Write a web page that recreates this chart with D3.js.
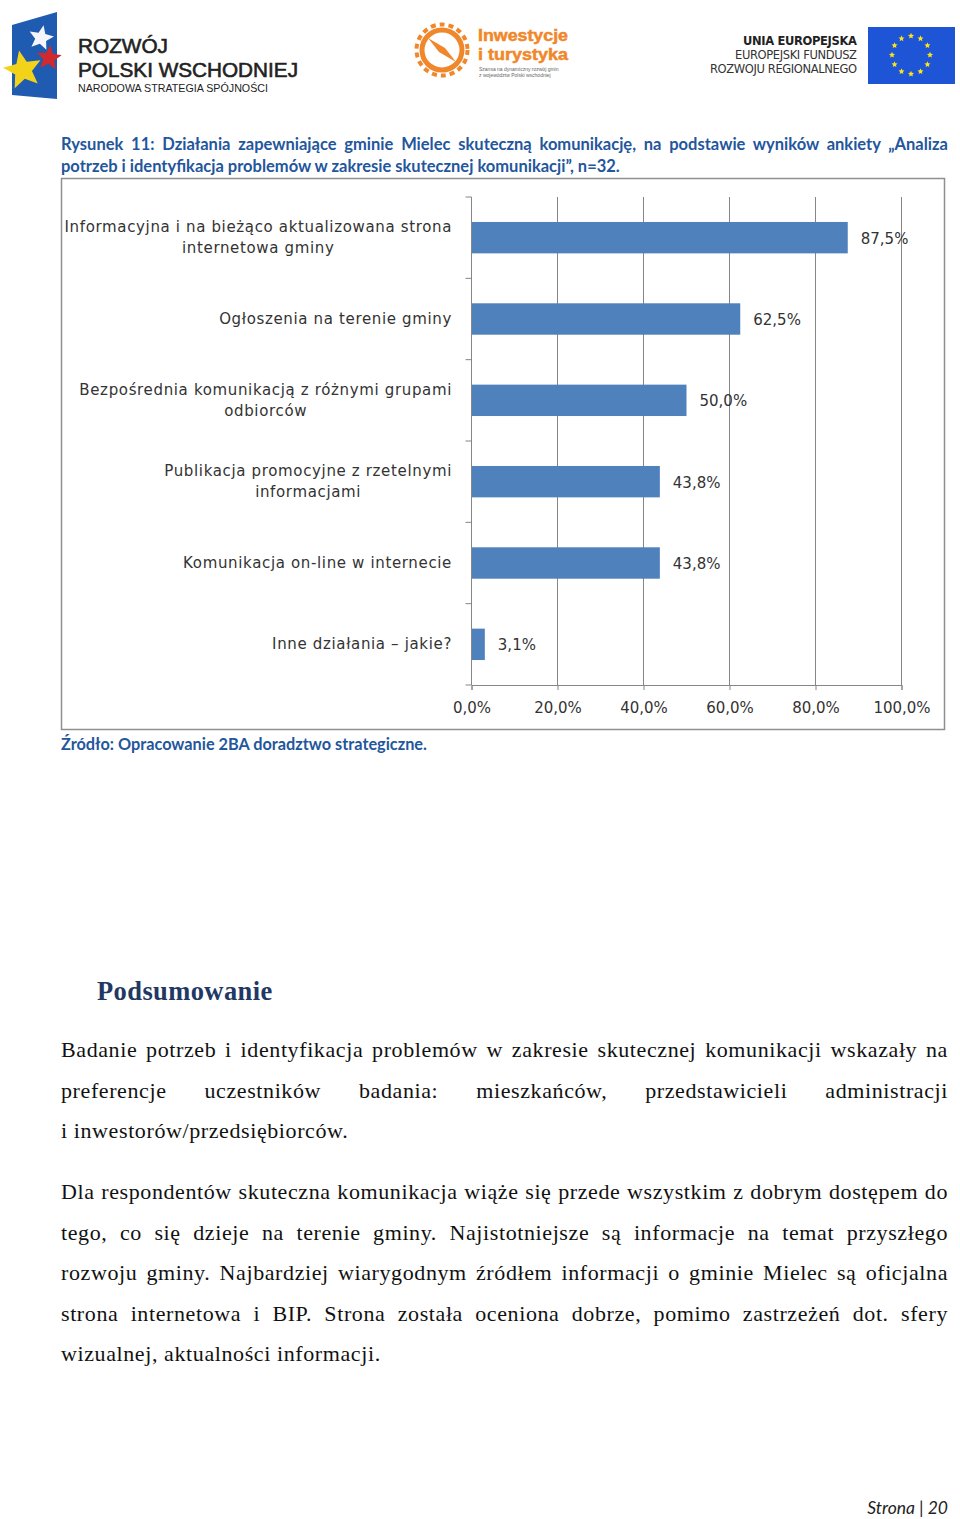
<!DOCTYPE html>
<html><head><meta charset="utf-8">
<script src="https://cdn.jsdelivr.net/npm/d3@7"></script>
<style>html,body{margin:0;padding:0;background:#fff;}svg{display:block;}</style>
</head><body>
<script>
// ---- data ----
const categories = [
  "Informacyjna i na bieżąco aktualizowana strona\ninternetowa gminy",
  "Ogłoszenia na terenie gminy",
  "Bezpośrednia komunikacją z różnymi grupami\nodbiorców",
  "Publikacja promocyjne z rzetelnymi\ninformacjami",
  "Komunikacja on-line w internecie",
  "Inne działania – jakie?"
];
const values = [87.5, 62.5, 50.0, 43.8, 43.8, 3.1];
const tickValues = [0, 20, 40, 60, 80, 100];
const captionLines = [
  "Rysunek 11: Działania zapewniające gminie Mielec skuteczną komunikację, na podstawie wyników ankiety „Analiza",
  "potrzeb i identyfikacja problemów w zakresie skutecznej komunikacji”, n=32."
];
const sourceText = "Źródło: Opracowanie 2BA doradztwo strategiczne.";
const headingText = "Podsumowanie";
const paragraph1 = [
  "Badanie potrzeb i identyfikacja problemów w zakresie skutecznej komunikacji wskazały na",
  "preferencje uczestników badania: mieszkańców, przedstawicieli administracji",
  "i inwestorów/przedsiębiorców."
];
const paragraph2 = [
  "Dla respondentów skuteczna komunikacja wiąże się przede wszystkim z dobrym dostępem do",
  "tego, co się dzieje na terenie gminy. Najistotniejsze są informacje na temat przyszłego",
  "rozwoju gminy. Najbardziej wiarygodnym źródłem informacji o gminie Mielec są oficjalna",
  "strona internetowa i BIP. Strona została oceniona dobrze, pomimo zastrzeżeń dot. sfery",
  "wizualnej, aktualności informacji."
];
const footerText = "Strona | 20";
const logoLeftLines = ["ROZWÓJ", "POLSKI WSCHODNIEJ", "NARODOWA STRATEGIA SPÓJNOŚCI"];
const logoMidLines = ["Inwestycje", "i turystyka"];
const logoMidSmall = ["Szansa na dynamiczny rozwój gmin", "z województw Polski wschodniej"];
const logoRightLines = ["UNIA EUROPEJSKA", "EUROPEJSKI FUNDUSZ", "ROZWOJU REGIONALNEGO"];

// ---- page ----
const W = 960, H = 1519;
const svg = d3.select("body").append("svg").attr("width", W).attr("height", H);
svg.append("rect").attr("width", W).attr("height", H).attr("fill", "#fff");

function justifyLine(sel, target) {
  const node = sel.node();
  const len = node.getComputedTextLength();
  const spaces = (sel.text().match(/ /g) || []).length;
  if (len > target) { sel.attr("textLength", target).attr("lengthAdjust", "spacing"); return; }
  if (spaces > 0) sel.attr("word-spacing", (target - len) / spaces);
}

// ---- header logos ----
const hdr = svg.append("g");
hdr.append("polygon").attr("points", "12,25 57,12 57,99 12,95").attr("fill", "#1f5bb0");
function star(cx, cy, r, rot) {
  const pts = [];
  for (let i = 0; i < 10; i++) {
    const a = rot + i * Math.PI / 5 - Math.PI / 2;
    const rr = i % 2 === 0 ? r : r * 0.45;
    pts.push([cx + rr * Math.cos(a), cy + rr * Math.sin(a)]);
  }
  return pts.map(p => p.join(",")).join(" ");
}
hdr.append("polygon").attr("points", star(41, 38, 13, 0.2)).attr("fill", "#f4f6fb");
hdr.append("polygon").attr("points", star(49, 58, 13, 0.1)).attr("fill", "#d02a2e");
hdr.append("polygon").attr("points", star(23, 70, 20, -0.2)).attr("fill", "#f3d21a");

const llSpec = [{y: 52.5, fs: 21, sw: 0.6, len: 90}, {y: 76.5, fs: 21, sw: 0.6, len: 220}, {y: 92, fs: 11.5, sw: 0, len: 190}];
logoLeftLines.forEach((t, i) => {
  hdr.append("text").attr("font-family", "Liberation Sans").attr("fill", "#222")
    .attr("stroke", "#222").attr("stroke-width", llSpec[i].sw)
    .attr("x", 78).attr("y", llSpec[i].y).attr("font-size", llSpec[i].fs)
    .attr("textLength", llSpec[i].len).attr("lengthAdjust", "spacingAndGlyphs").text(t);
});

// middle logo
const orange = "#f0872a";
hdr.append("circle").attr("cx", 442).attr("cy", 50).attr("r", 20).attr("fill", "none").attr("stroke", orange).attr("stroke-width", 5);
hdr.append("circle").attr("cx", 442).attr("cy", 50).attr("r", 25.5).attr("fill", "none").attr("stroke", orange).attr("stroke-width", 4).attr("stroke-dasharray", "5,4");
hdr.append("polygon").attr("points", "428,38 445,48 456,62 439,52").attr("fill", orange);
logoMidLines.forEach((t, i) => {
  hdr.append("text").attr("font-family", "Liberation Sans").attr("font-weight", "bold").attr("font-size", 16.5)
    .attr("fill", orange).attr("stroke", orange).attr("stroke-width", 0.5)
    .attr("x", 478).attr("y", 41 + i * 18.5).attr("textLength", 90)
    .attr("lengthAdjust", "spacingAndGlyphs").text(t);
});
logoMidSmall.forEach((t, i) => {
  hdr.append("text").attr("font-family", "Liberation Sans").attr("font-size", 5).attr("fill", "#666")
    .attr("x", 479).attr("y", 70.5 + i * 6).text(t);
});

// right logo
const rlLen = [114, 122, 147];
logoRightLines.forEach((t, i) => {
  hdr.append("text").attr("font-family", "DejaVu Sans").attr("font-size", 11.5).attr("text-anchor", "end")
    .attr("x", 857).attr("y", 45 + i * 14).attr("textLength", rlLen[i])
    .attr("font-weight", i === 0 ? "bold" : "normal").attr("fill", i === 0 ? "#222" : "#333").text(t);
});
hdr.append("rect").attr("x", 868).attr("y", 27).attr("width", 87).attr("height", 57).attr("fill", "#1d55d6");
for (let i = 0; i < 12; i++) {
  const a = i * Math.PI / 6;
  hdr.append("polygon").attr("points", star(911 + 19 * Math.cos(a), 55 + 19 * Math.sin(a), 3.2, 0)).attr("fill", "#ffe21a");
}

// ---- caption ----
const capColor = "#23569c";
captionLines.forEach((t, i) => {
  const tx = svg.append("text").attr("x", 61).attr("y", 150 + i * 22)
    .attr("font-family", "Lato").attr("font-weight", "bold").attr("font-size", 16.5)
    .attr("fill", capColor).text(t);
  if (i < captionLines.length - 1) justifyLine(tx, 887);
});

// ---- chart frame ----
svg.append("rect").attr("x", 61.5).attr("y", 178.5).attr("width", 883).attr("height", 551)
  .attr("fill", "#fff").attr("stroke", "#8f8f8f").attr("stroke-width", 1.5);

const x = d3.scaleLinear().domain([0, 100]).range([471.5, 901.5]);
const y = d3.scaleBand().domain(categories).range([197, 685]).paddingInner(0.614).paddingOuter(0.307);

const chart = svg.append("g");
chart.append("g").selectAll("line").data(tickValues.filter(d => d > 0)).join("line")
  .attr("x1", d => x(d)).attr("x2", d => x(d)).attr("y1", 197).attr("y2", 685)
  .attr("stroke", "#868686").attr("stroke-width", 1);

chart.append("g").selectAll("rect").data(values).join("rect")
  .attr("x", x(0)).attr("y", (d, i) => y(categories[i]))
  .attr("width", d => x(d) - x(0)).attr("height", y.bandwidth())
  .attr("fill", "#4f81bd");

const fmt = d => d3.format(".1f")(d).replace(".", ",") + "%";
const xAxis = chart.append("g").attr("transform", "translate(0,685)")
  .call(d3.axisBottom(x).tickValues(tickValues).tickFormat(fmt).tickSize(5).tickPadding(12));
xAxis.select(".domain").attr("stroke", "#868686");
xAxis.selectAll(".tick line").attr("stroke", "#868686");
xAxis.selectAll("text").attr("font-family", "DejaVu Sans").attr("font-size", 15).attr("fill", "#333");

chart.append("line").attr("x1", x(0)).attr("x2", x(0)).attr("y1", 197).attr("y2", 685)
  .attr("stroke", "#868686").attr("stroke-width", 1);
const bounds = categories.map(c => y(c) - y.step() * y.paddingInner() / 2);
bounds.push(685);
chart.append("g").selectAll("line").data(bounds).join("line")
  .attr("x1", x(0) - 6).attr("x2", x(0)).attr("y1", d => d).attr("y2", d => d)
  .attr("stroke", "#868686");

categories.forEach((c, i) => {
  const lines = c.split("\n");
  const cy = y(c) + y.bandwidth() / 2;
  const t = chart.append("text").attr("font-family", "DejaVu Sans").attr("font-size", 15)
    .attr("letter-spacing", 0.65).attr("fill", "#333").attr("text-anchor", "middle");
  lines.forEach((l, j) => {
    t.append("tspan").attr("x", 0).attr("y", cy + 5 + (j - (lines.length - 1) / 2) * 21).text(l);
  });
  const w = t.node().getBBox().width;
  t.attr("transform", `translate(${452 - w / 2},0)`);
});

chart.append("g").selectAll("text").data(values).join("text")
  .attr("x", d => x(d) + 13).attr("y", (d, i) => y(categories[i]) + y.bandwidth() / 2 + 6)
  .attr("font-family", "DejaVu Sans").attr("font-size", 15).attr("fill", "#333")
  .text(d => fmt(d));

// ---- source ----
svg.append("text").attr("x", 61).attr("y", 750).attr("font-family", "Lato").attr("font-weight", "bold")
  .attr("font-size", 16.3).attr("fill", capColor).text(sourceText);

// ---- heading ----
svg.append("text").attr("x", 97).attr("y", 1000).attr("font-family", "Liberation Serif").attr("font-weight", "bold")
  .attr("font-size", 26.5).attr("letter-spacing", 0.4).attr("fill", "#1f3864").text(headingText);

// ---- paragraphs ----
function para(lines, y0) {
  lines.forEach((t, i) => {
    const tx = svg.append("text").attr("x", 61).attr("y", y0 + i * 40.6)
      .attr("font-family", "Liberation Serif").attr("font-size", 22).attr("letter-spacing", 0.6)
      .attr("fill", "#111").text(t);
    if (i < lines.length - 1) justifyLine(tx, 887);
  });
}
para(paragraph1, 1057);
para(paragraph2, 1199);

// ---- footer ----
svg.append("text").attr("x", 948).attr("y", 1514).attr("text-anchor", "end").attr("font-family", "Lato")
  .attr("font-style", "italic").attr("font-size", 17.5).attr("fill", "#222").text(footerText);
</script>
</body></html>
